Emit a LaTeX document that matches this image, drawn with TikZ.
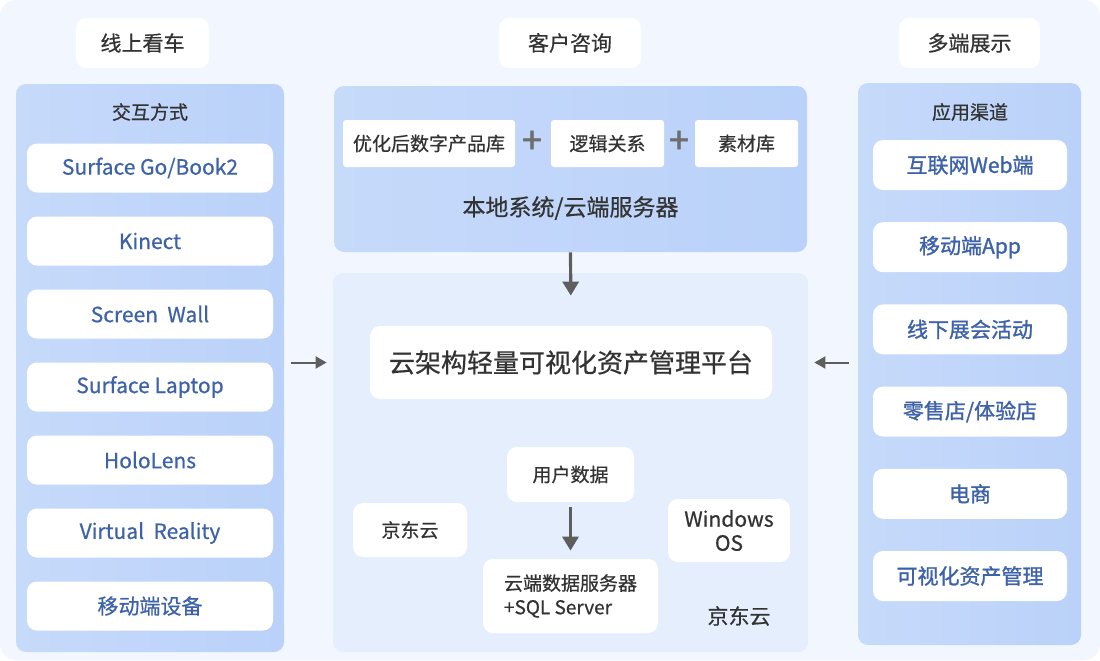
\documentclass[tikz,border=0pt]{standalone}
\usepackage{fontspec}
\setmainfont{Noto Sans CJK SC}
\newfontfamily\midfont[FakeBold=0.6]{Noto Sans CJK SC}
\newfontfamily\heavyfont[FakeBold=1.3]{Noto Sans CJK SC}
\usetikzlibrary{positioning,arrows.meta}
\definecolor{bgblue}{HTML}{F2F7FF}
\definecolor{colblue}{HTML}{C6DAFA}
\definecolor{colblueR}{HTML}{BAD1F9}
\definecolor{paleblue}{HTML}{E5EEFD}
\definecolor{txtblue}{HTML}{3D62AA}
\definecolor{txtdark}{HTML}{333333}
\definecolor{arrowgray}{HTML}{5E5E5E}
\newcommand{\fsz}[2]{\fontsize{#1pt}{#2pt}\selectfont}

\begin{document}
\begin{tikzpicture}[x=0.5pt,y=-0.5pt,
  panel/.style={rounded corners=5pt, inner sep=0pt, left color=colblue, right color=colblueR},
  whitebox/.style={fill=white, rounded corners=5pt, inner sep=0pt},
  tab/.style={whitebox, minimum height=25pt, text=txtdark, font=\midfont\fsz{10.5}{12}},
  devbox/.style={whitebox, minimum width=123pt, minimum height=24.5pt, text=txtblue, font=\midfont\fsz{10.5}{12}},
  chanbox/.style={whitebox, minimum width=97pt, minimum height=25pt, text=txtblue, font=\heavyfont\fsz{10.5}{12}},
  partbox/.style={fill=white, rounded corners=1.5pt, inner sep=0pt, minimum height=23.5pt, text=txtdark, font=\midfont\fsz{9.5}{12}},
  cloudbox/.style={whitebox, text=txtdark, font=\midfont\fsz{9.5}{12}, align=center},
  plussign/.style={text=arrowgray!90, font=\heavyfont\fsz{18}{18}},
  flow/.style={-{Triangle[width=8pt,length=7pt]}, line width=1.6pt, arrowgray},
  feed/.style={-{Triangle[width=6pt,length=5.5pt]}, line width=1pt, arrowgray}
]

% background
\fill [white] (0,0) rectangle (1100,660);
\fill [bgblue, rounded corners=8pt] (0,0) rectangle (1100,660);
\useasboundingbox (0,0) rectangle (1100,660);

% panels
\node [panel, minimum width=134pt, minimum height=284pt] (devcol) at (150,368) {};
\node [panel, minimum width=111.5pt, minimum height=281pt] (chancol) at (969.5,364) {};
\node [panel, minimum width=236.5pt, minimum height=83pt] (localsys) at (570.5,169) {};
\node [fill=paleblue, rounded corners=5pt, inner sep=0pt, minimum width=237.5pt, minimum height=189.5pt] (cloudzone) at (570.5,462.5) {};

% tabs
\node [tab, minimum width=66.5pt] (tabview) at (142.5,43) {线上看车};
\node [tab, minimum width=71pt] (tabask) at (570,43) {客户咨询};
\node [tab, minimum width=70.5pt] (tabshow) at (969.5,43) {多端展示};

% headers
\node [text=txtdark, font=\midfont\fsz{9.5}{12}] (devhead) at (150,112) {交互方式};
\node [text=txtdark, font=\midfont\fsz{9.5}{12}] (chanhead) at (970,112) {应用渠道};

% devices
\foreach \name [count=\i from 0] in {Surface Go/Book2, Kinect, Screen\ \ Wall, Surface Laptop, HoloLens, Virtual\ \ Reality, 移动端设备}
  \node [devbox] (dev\i) at (150,168+73*\i) {\name};

% channels
\foreach \name [count=\i from 0] in {互联网Web端, 移动端App, 线下展会活动, 零售店/体验店, 电商, 可视化资产管理}
  \node [chanbox] (chan\i) at (970,165+82.2*\i) {\name};

% local system
\node [partbox, minimum width=86pt] (prodlib) at (429,143.5) {优化后数字产品库};
\node [partbox, minimum width=56.5pt] (logic) at (607.5,143.5) {逻辑关系};
\node [partbox, minimum width=51.5pt] (assets) at (746.5,143.5) {素材库};
\node [plussign] (plusA) at (532,142) {+};
\node [plussign] (plusB) at (679,142) {+};
\node [text=txtdark, font=\midfont\fsz{11.5}{14}] (localname) at (570.5,208) {本地系统/云端服务器};

% cloud zone
\node [whitebox, minimum width=201pt, minimum height=36.5pt, text=txtdark, font=\midfont\fsz{13}{15}] (platform) at (571,362.5) {云架构轻量可视化资产管理平台};
\node [cloudbox, minimum width=63.5pt, minimum height=27.5pt] (userdata) at (570.5,474.5) {用户数据};
\node [cloudbox, minimum width=87.5pt, minimum height=37pt, align=left] (dbserver) at (570.5,596) {云端数据服务器\\+SQL Server};
\node [cloudbox, minimum width=57pt, minimum height=27pt] (jdcloud) at (410,530) {京东云};
\node [cloudbox, minimum width=61pt, minimum height=31.5pt, font=\midfont\fsz{10.5}{12}] (winos) at (729,530.5) {Windows\\OS};
\node [text=txtdark, font=\midfont\fsz{10.5}{12}] (jdlabel) at (739,616) {京东云};

% arrows
\draw [flow, shorten >=15pt] (localsys.south) -- (platform.north);
\draw [flow, shorten <=2.5pt, shorten >=4pt] (userdata) -- (dbserver);
\draw [feed, shorten <=3.5pt, shorten >=3pt] (devcol.east |- platform.west) -- (cloudzone.west |- platform.west);
\draw [feed, shorten <=4.5pt, shorten >=3pt] (chancol.west |- platform.east) -- (cloudzone.east |- platform.east);

\end{tikzpicture}
\end{document}
